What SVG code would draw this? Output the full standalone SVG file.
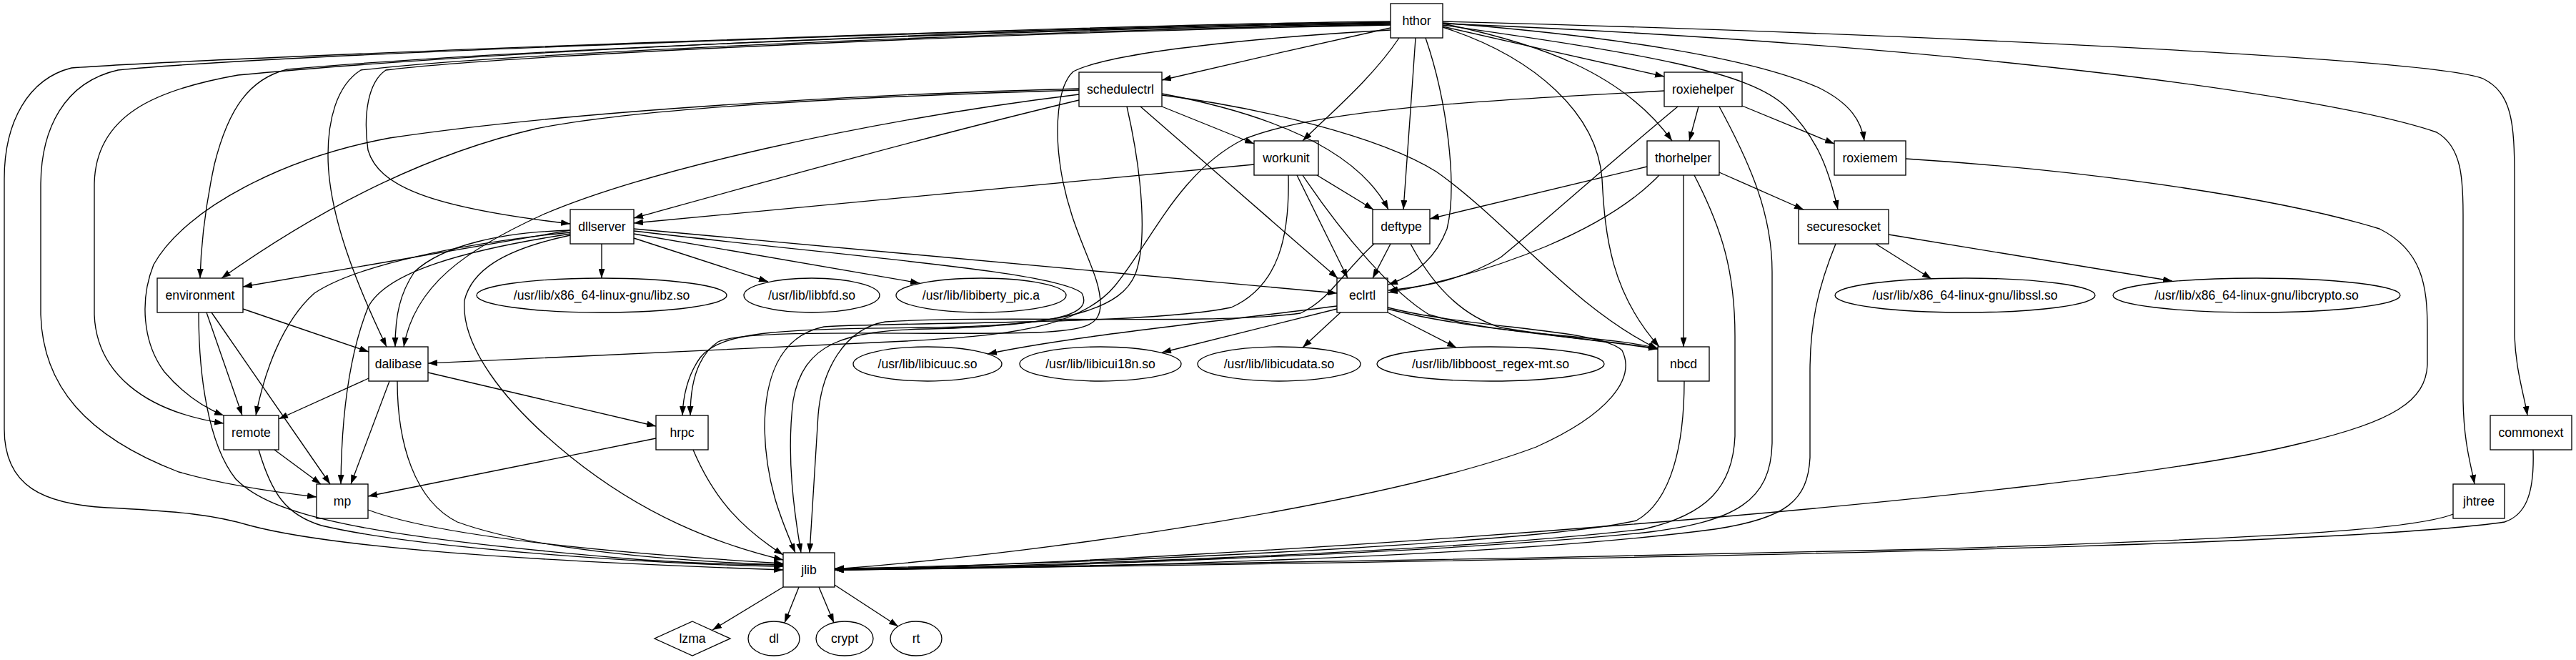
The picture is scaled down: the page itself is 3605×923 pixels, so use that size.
<svg xmlns="http://www.w3.org/2000/svg" width="3605" height="923" viewBox="0 0 3605 923">
<defs>
<style>
.nd rect,.nd ellipse,.nd polygon{fill:none;stroke:#000;stroke-width:1.33}
.ed path{fill:none;stroke:#000;stroke-width:1.33;marker-end:url(#ah)}
text{font-family:"Liberation Sans",Arial,sans-serif;font-size:17.6px;text-anchor:middle;fill:#000}
</style>
<marker id="ah" viewBox="0 0 13 9" refX="13" refY="4.5" markerWidth="13" markerHeight="9" markerUnits="userSpaceOnUse" orient="auto"><path d="M0,0 L13,4.5 L0,9 z" fill="#000"/></marker>
</defs>
<rect width="3605" height="923" fill="#fff"/>
<g id="edges" class="ed">
<path d="M1946,39 C1850,60 1720,90 1626,112"/>
<path d="M2019,37 C2120,60 2230,85 2329,107"/>
<path d="M1958,53 C1920,110 1860,160 1823,197"/>
<path d="M1981,53 C1976,130 1969,220 1964,293"/>
<path d="M1995,53 C2025,140 2040,260 2025,320 C2010,360 1980,385 1943,398"/>
<path d="M2019,33 C2150,60 2270,100 2340,197"/>
<path d="M2019,32 C2250,50 2450,80 2546,123 C2590,145 2605,170 2609,197"/>
<path d="M2019,35 C2300,75 2450,100 2500,150 C2545,195 2560,240 2572,293"/>
<path d="M2019,38 C2150,80 2235,160 2242,250 C2246,330 2255,410 2322,485"/>
<path d="M2019,30 C2600,45 3400,80 3475,110 C3515,130 3519,170 3519,250 L3519,470 C3521,520 3533,555 3537,581"/>
<path d="M2019,33 C2700,60 3250,130 3410,185 C3445,205 3447,250 3447,300 L3447,560 C3448,620 3458,650 3463,677"/>
<path d="M1946,30 C1500,35 300,80 100,95 C40,110 6,170 6,250 L6,600 C6,680 60,705 150,710 C250,715 300,720 350,735 C500,775 900,790 1096,797"/>
<path d="M1946,31 C1400,40 400,75 165,98 C90,115 57,180 57,260 L57,440 C60,540 120,610 250,660 C320,680 400,690 443,695"/>
<path d="M1946,32 C1400,40 700,70 333,105 C220,125 132,160 132,260 L132,440 C135,520 200,575 313,592"/>
<path d="M1946,33 C1400,42 700,70 402,97 C350,110 320,150 300,230 C285,300 281,350 280,389"/>
<path d="M1946,34 C1400,44 700,75 505,98 C470,120 459,170 459,217 C459,300 500,400 541,485"/>
<path d="M1946,35 C1400,45 700,78 540,98 C515,115 508,160 515,210 C530,260 600,290 798,313"/>
<path d="M1946,42 C1800,50 1560,70 1502,100 C1480,120 1475,180 1485,240 C1500,330 1540,380 1540,425 C1540,455 1520,462 1450,465 C1300,470 1050,458 1005,478 C975,498 966,540 966,581"/>
<path d="M1626,149 L1755,201"/>
<path d="M1626,131 C1780,160 1900,210 1943,293"/>
<path d="M1626,133 C1760,150 1930,190 2010,240 C2110,310 2200,430 2320,488"/>
<path d="M1596,149 L1872,389"/>
<path d="M1577,149 C1600,250 1605,340 1589,383 C1570,430 1500,455 1300,460 C1181,462 1124,480 1110,560 C1100,640 1112,720 1121,773"/>
<path d="M1510,140 C1300,190 1050,260 887,305"/>
<path d="M1510,132 C1200,170 900,240 760,300 C650,350 580,400 565,485"/>
<path d="M1510,126 C1200,135 900,150 750,180 C600,215 450,290 310,389"/>
<path d="M1510,124 C1200,132 800,155 545,193 C400,220 260,290 215,370 C195,420 200,480 230,520 C260,555 290,572 313,581"/>
<path d="M1755,230 L887,312"/>
<path d="M1843,245 L1922,293"/>
<path d="M1815,245 L1886,389"/>
<path d="M1823,245 C1880,330 1950,410 2000,440 C2100,470 2240,468 2320,487"/>
<path d="M1803,245 C1805,330 1790,400 1723,430 C1600,455 1250,450 1153,457 C1090,470 1070,530 1070,600 C1072,680 1095,730 1113,773"/>
<path d="M2377,149 L2364,197"/>
<path d="M2438,148 L2567,201"/>
<path d="M2348,149 C2250,230 2150,320 2100,360 C2050,390 2000,400 1943,406"/>
<path d="M2406,149 C2450,230 2480,300 2480,380 L2480,620 C2478,700 2430,730 2300,745 C2000,775 1400,795 1168,797"/>
<path d="M2329,127 C2100,140 1850,150 1740,195 C1650,240 1610,340 1560,400 C1510,460 1400,470 1268,477 C1000,490 800,500 599,508"/>
<path d="M2305,233 L2001,306"/>
<path d="M2322,245 C2250,320 2100,380 1943,409"/>
<path d="M2356,245 L2356,485"/>
<path d="M2406,241 L2524,293"/>
<path d="M2371,245 C2410,320 2428,380 2428,470 L2428,610 C2425,680 2390,720 2300,740 C2000,775 1400,793 1168,796"/>
<path d="M2667,222 C2950,240 3200,280 3330,320 C3390,350 3397,400 3397,460 L3397,510 C3395,560 3350,590 3220,620 C2900,700 1700,785 1168,797"/>
<path d="M2625,341 L2703,390"/>
<path d="M2643,328 L3040,393"/>
<path d="M2569,341 C2545,400 2533,450 2533,520 L2533,640 C2530,700 2500,725 2400,740 C2100,780 1500,795 1168,797"/>
<path d="M1946,341 L1921,389"/>
<path d="M1974,341 C2000,390 2040,440 2100,458 C2200,475 2270,478 2320,488"/>
<path d="M1923,341 C1880,380 1860,420 1820,438 C1700,455 1400,440 1239,450 C1180,460 1150,520 1145,580 C1140,660 1136,720 1133,773"/>
<path d="M842,341 L842,389"/>
<path d="M887,333 L1075,394"/>
<path d="M887,327 L1287,396"/>
<path d="M887,320 L1871,410"/>
<path d="M887,323 C1200,360 1480,380 1514,410 C1530,440 1480,455 1300,458 C1100,460 1010,462 980,500 C962,525 956,555 955,581"/>
<path d="M798,322 L340,401"/>
<path d="M798,322 C700,325 620,343 580,380 C560,410 553,440 553,485"/>
<path d="M798,325 C650,340 500,370 440,410 C395,450 370,520 358,581"/>
<path d="M798,327 C650,350 540,380 515,430 C495,480 478,560 477,677"/>
<path d="M798,329 C700,350 660,380 650,420 C645,480 700,560 800,640 C900,720 1000,760 1096,783"/>
<path d="M340,432 L516,492"/>
<path d="M289,437 L339,581"/>
<path d="M296,437 L462,677"/>
<path d="M278,437 C278,520 290,620 330,670 C380,720 500,750 900,783 C980,788 1050,790 1096,790"/>
<path d="M516,529 L390,586"/>
<path d="M545,533 L491,677"/>
<path d="M599,521 L918,596"/>
<path d="M556,533 C556,620 580,700 640,730 C750,770 950,785 1096,790"/>
<path d="M384,629 L449,677"/>
<path d="M362,629 C380,690 400,720 450,735 C600,770 950,790 1096,792"/>
<path d="M515,713 C600,745 800,770 1096,788"/>
<path d="M918,613 L515,694"/>
<path d="M970,629 C1000,700 1040,740 1096,776"/>
<path d="M1871,428 C1700,450 1500,470 1382,495"/>
<path d="M1871,432 L1626,493"/>
<path d="M1876,437 L1823,486"/>
<path d="M1942,437 L2038,486"/>
<path d="M1942,432 C2050,460 2200,470 2320,488"/>
<path d="M1942,430 C2060,460 2240,460 2270,490 C2290,530 2250,580 2150,625 C1950,700 1500,770 1168,796"/>
<path d="M2357,533 C2357,620 2340,700 2290,728 C2150,760 1500,790 1168,795"/>
<path d="M3433,719 C3380,740 3200,752 2700,768 C2200,780 1500,793 1168,797"/>
<path d="M3545,629 C3547,690 3535,720 3505,730 C3300,760 2500,780 1168,797"/>
<path d="M1096,821 L997,881"/>
<path d="M1118,821 L1098,871"/>
<path d="M1146,821 L1167,871"/>
<path d="M1168,818 L1257,876"/>
</g>
<g id="hthor" class="nd"><rect x="1946" y="5" width="73" height="48"/><text x="1982.5" y="35">hthor</text></g>
<g id="schedulectrl" class="nd"><rect x="1510" y="101" width="116" height="48"/><text x="1568" y="131">schedulectrl</text></g>
<g id="roxiehelper" class="nd"><rect x="2329" y="101" width="109" height="48"/><text x="2383.5" y="131">roxiehelper</text></g>
<g id="workunit" class="nd"><rect x="1755" y="197" width="90" height="48"/><text x="1800" y="227">workunit</text></g>
<g id="thorhelper" class="nd"><rect x="2305" y="197" width="101" height="48"/><text x="2355.5" y="227">thorhelper</text></g>
<g id="roxiemem" class="nd"><rect x="2567" y="197" width="100" height="48"/><text x="2617" y="227">roxiemem</text></g>
<g id="dllserver" class="nd"><rect x="798" y="293" width="89" height="48"/><text x="842.5" y="323">dllserver</text></g>
<g id="deftype" class="nd"><rect x="1921" y="293" width="80" height="48"/><text x="1961" y="323">deftype</text></g>
<g id="securesocket" class="nd"><rect x="2517" y="293" width="126" height="48"/><text x="2580" y="323">securesocket</text></g>
<g id="environment" class="nd"><rect x="220" y="389" width="120" height="48"/><text x="280" y="419">environment</text></g>
<g id="eclrtl" class="nd"><rect x="1871" y="389" width="71" height="48"/><text x="1906.5" y="419">eclrtl</text></g>
<g id="libz" class="nd"><ellipse cx="842" cy="413" rx="175" ry="24"/><text x="842" y="419">/usr/lib/x86_64-linux-gnu/libz.so</text></g>
<g id="libbfd" class="nd"><ellipse cx="1136" cy="413" rx="95" ry="24"/><text x="1136" y="419">/usr/lib/libbfd.so</text></g>
<g id="libiberty" class="nd"><ellipse cx="1373" cy="413" rx="119" ry="24"/><text x="1373" y="419">/usr/lib/libiberty_pic.a</text></g>
<g id="libssl" class="nd"><ellipse cx="2750" cy="413" rx="182" ry="24"/><text x="2750" y="419">/usr/lib/x86_64-linux-gnu/libssl.so</text></g>
<g id="libcrypto" class="nd"><ellipse cx="3158" cy="413" rx="201" ry="24"/><text x="3158" y="419">/usr/lib/x86_64-linux-gnu/libcrypto.so</text></g>
<g id="dalibase" class="nd"><rect x="516" y="485" width="83" height="48"/><text x="557.5" y="515">dalibase</text></g>
<g id="libicuuc" class="nd"><ellipse cx="1298" cy="509" rx="104" ry="24"/><text x="1298" y="515">/usr/lib/libicuuc.so</text></g>
<g id="libicui18n" class="nd"><ellipse cx="1540" cy="509" rx="113" ry="24"/><text x="1540" y="515">/usr/lib/libicui18n.so</text></g>
<g id="libicudata" class="nd"><ellipse cx="1790" cy="509" rx="114" ry="24"/><text x="1790" y="515">/usr/lib/libicudata.so</text></g>
<g id="libboost" class="nd"><ellipse cx="2086" cy="509" rx="159" ry="24"/><text x="2086" y="515">/usr/lib/libboost_regex-mt.so</text></g>
<g id="nbcd" class="nd"><rect x="2320" y="485" width="72" height="48"/><text x="2356" y="515">nbcd</text></g>
<g id="remote" class="nd"><rect x="313" y="581" width="77" height="48"/><text x="351.5" y="611">remote</text></g>
<g id="hrpc" class="nd"><rect x="918" y="581" width="73" height="48"/><text x="954.5" y="611">hrpc</text></g>
<g id="commonext" class="nd"><rect x="3485" y="581" width="114" height="48"/><text x="3542" y="611">commonext</text></g>
<g id="mp" class="nd"><rect x="443" y="677" width="72" height="48"/><text x="479" y="707">mp</text></g>
<g id="jhtree" class="nd"><rect x="3433" y="677" width="72" height="48"/><text x="3469" y="707">jhtree</text></g>
<g id="jlib" class="nd"><rect x="1096" y="773" width="72" height="48"/><text x="1132" y="803">jlib</text></g>
<g id="lzma" class="nd"><polygon points="969,869 1022,893 969,917 916,893"/><text x="969" y="899">lzma</text></g>
<g id="dl" class="nd"><ellipse cx="1083" cy="893" rx="36" ry="24"/><text x="1083" y="899">dl</text></g>
<g id="crypt" class="nd"><ellipse cx="1182" cy="893" rx="40" ry="24"/><text x="1182" y="899">crypt</text></g>
<g id="rt" class="nd"><ellipse cx="1282" cy="893" rx="36" ry="24"/><text x="1282" y="899">rt</text></g>
</svg>
